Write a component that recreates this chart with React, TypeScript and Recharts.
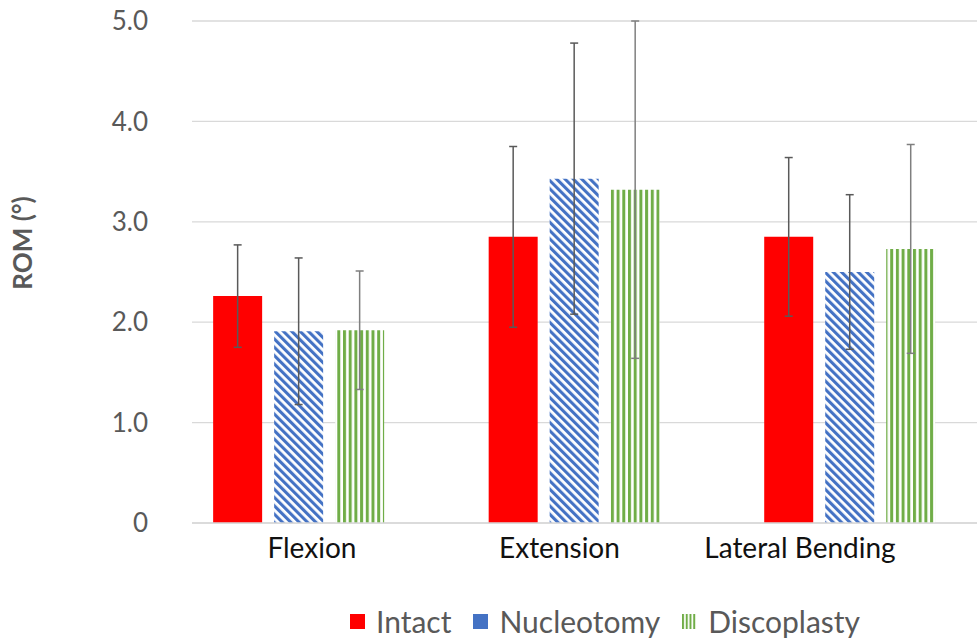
import React from "react";
import { BarChart, Bar, XAxis, YAxis, CartesianGrid, ErrorBar, Legend } from "recharts";

const categories = ["Flexion", "Extension", "Lateral Bending"];
const intact = [2.26, 2.85, 2.85];
const intactErr = [0.51, 0.9, 0.79];
const nucleotomy = [1.91, 3.43, 2.5];
const nucleotomyErr = [0.73, 1.35, 0.77];
const discoplasty = [1.92, 3.32, 2.73];
const discoplastyErr = [0.59, 1.68, 1.04];
const yTicks = [0, 1, 2, 3, 4, 5];
const yTickLabels = ["0", "1.0", "2.0", "3.0", "4.0", "5.0"];
const seriesKeys = ["intact", "nucleotomy", "discoplasty"];

// horizontal nudge of category labels, as laid out in the reference
const xLabelNudge = [13, -15, -50];

const data = categories.map((name, i) => ({
  x: i,
  name,
  intact: intact[i],
  intactErr: intactErr[i],
  nucleotomy: nucleotomy[i],
  nucleotomyErr: nucleotomyErr[i],
  discoplasty: discoplasty[i],
  discoplastyErr: discoplastyErr[i],
}));

const FONT = "Lato, 'Open Sans', sans-serif";
const GRAY = "#595959";

const legendIcon: Record<string, string> = {
  intact: "#FF0000",
  nucleotomy: "#4472C4",
  discoplasty: "url(#greenStripesLegend)",
};

const renderLegend = (props: any) => {
  const payload = [...(props.payload || [])].sort(
    (a: any, b: any) => seriesKeys.indexOf(a.dataKey) - seriesKeys.indexOf(b.dataKey)
  );
  return (
    <div style={{ height: 0, overflow: "visible" }}>
      <div style={{ display: "flex", alignItems: "center", paddingLeft: 350, fontFamily: FONT }}>
        {payload.map((e: any) => (
          <div key={e.dataKey} style={{ display: "flex", alignItems: "center", marginRight: 22 }}>
            <svg width={15} height={15} style={{ marginRight: 11 }}>
              <rect x={0} y={0} width={15} height={15} fill={legendIcon[e.dataKey]} />
            </svg>
            <span style={{ fontSize: 30, color: GRAY }}>{e.value}</span>
          </div>
        ))}
      </div>
    </div>
  );
};

const XTick = (props: any) => {
  const { x, y, payload, index } = props;
  const label = categories[payload.value];
  const nudge = xLabelNudge[index] || 0;
  return (
    <text x={x + nudge} y={y} dy="0.71em" textAnchor="middle" fill="#111" fontSize={28} fontFamily={FONT}>
      {label}
    </text>
  );
};

const YLabel = (props: any) => {
  const { viewBox } = props;
  const x = viewBox.x - 70;
  const y = viewBox.y + viewBox.height / 2 - 29;
  return (
    <text
      x={x}
      y={y}
      transform={`rotate(-90, ${x}, ${y})`}
      textAnchor="middle"
      dominantBaseline="central"
      fontFamily={FONT}
      fontWeight="bold"
      fontSize={26}
      fill={GRAY}
    >
      ROM (°)
    </text>
  );
};

export default function App() {
  return (
    <div style={{ position: "absolute", left: 0, top: 0, width: 977, height: 642, overflow: "hidden", background: "#fff" }}>
      <svg width={0} height={0} style={{ position: "absolute" }}>
        <defs>
          <pattern id="blueDiag" patternUnits="userSpaceOnUse" width={5.9} height={5.9} patternTransform="rotate(-45)">
            <rect x={0} y={0} width={5.9} height={5.9} fill="#fff" />
            <rect x={0} y={0} width={3.1} height={5.9} fill="#4472C4" />
          </pattern>
          <pattern id="greenStripes" patternUnits="userSpaceOnUse" width={5.7} height={10} x={1}>
            <rect x={0} y={0} width={5.7} height={10} fill="#fff" />
            <rect x={0} y={0} width={3} height={10} fill="#70AD47" />
          </pattern>
          <pattern id="greenStripesLegend" patternUnits="userSpaceOnUse" width={3.75} height={10}>
            <rect x={0} y={0} width={3.75} height={10} fill="#fff" />
            <rect x={0} y={0} width={2} height={10} fill="#70AD47" />
          </pattern>
        </defs>
      </svg>
      <BarChart
        width={977}
        height={642}
        data={data}
        margin={{ top: 21, right: 0, bottom: 79, left: 92 }}
        barSize={49}
        barGap={12}
        style={{ fontFamily: FONT }}
      >
        <CartesianGrid vertical={false} stroke="#d9d9d9" strokeWidth={1.3} />
        <XAxis
          dataKey="x"
          type="number"
          domain={[-0.388, 2.461]}
          allowDataOverflow
          ticks={[0, 1, 2]}
          tickFormatter={(v: number) => categories[v]}
          axisLine={{ stroke: "#d9d9d9", strokeWidth: 1.3 }}
          tickLine={false}
          tickSize={0}
          tickMargin={15}
          tick={<XTick />}
          height={40}
        />
        <YAxis
          type="number"
          domain={[0, 5]}
          allowDataOverflow
          ticks={yTicks}
          tickFormatter={(v: number) => yTickLabels[yTicks.indexOf(v)]}
          axisLine={false}
          tickLine={false}
          tickSize={0}
          tickMargin={44}
          width={100}
          tick={{ fill: GRAY, fontSize: 26, fontFamily: FONT }}
          label={<YLabel />}
        />
        <Legend
          content={renderLegend}
          wrapperStyle={{ position: "absolute", top: 603, left: 0, width: 977 }}
        />
        <Bar dataKey="intact" name="Intact" fill="#FF0000" isAnimationActive={false}>
          <ErrorBar dataKey="intactErr" direction="y" width={4} stroke={GRAY} strokeWidth={1.5} />
        </Bar>
        <Bar dataKey="nucleotomy" name="Nucleotomy" fill="url(#blueDiag)" isAnimationActive={false}>
          <ErrorBar dataKey="nucleotomyErr" direction="y" width={4} stroke={GRAY} strokeWidth={1.5} />
        </Bar>
        <Bar dataKey="discoplasty" name="Discoplasty" fill="url(#greenStripes)" isAnimationActive={false}>
          <ErrorBar dataKey="discoplastyErr" direction="y" width={4} stroke="#7f7f7f" strokeWidth={1.5} />
        </Bar>
      </BarChart>
    </div>
  );
}
